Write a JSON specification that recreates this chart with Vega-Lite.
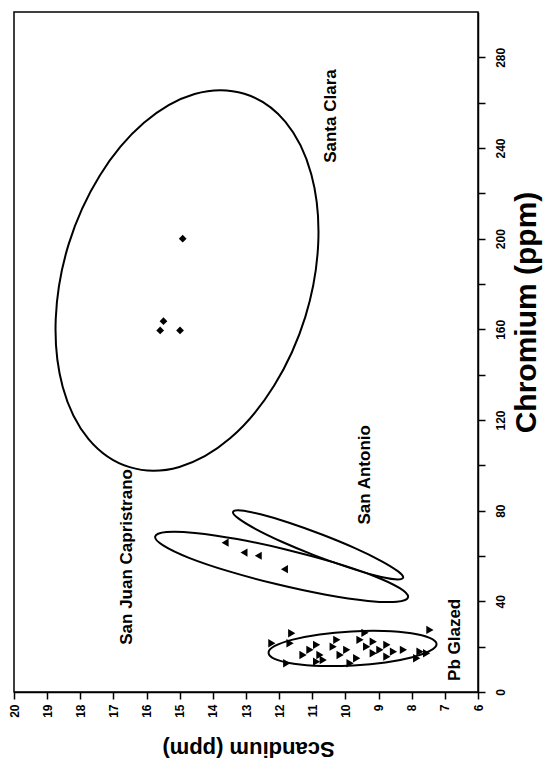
{
  "$schema": "https://vega.github.io/schema/vega-lite/v6.json",
  "width": 464,
  "height": 680,
  "autosize": {"type": "none"},
  "padding": {"left": 14, "top": 12, "right": 73, "bottom": 76},
  "background": "white",
  "config": {
    "font": "Liberation Sans",
    "view": {"stroke": "black", "strokeWidth": 1.5},
    "axis": {"grid": false, "domainColor": "black", "domainWidth": 1.5, "tickColor": "black", "tickWidth": 1.5, "tickSize": 7, "labelColor": "black", "titleColor": "black", "labelFont": "Liberation Sans", "titleFont": "Liberation Sans", "labelFontWeight": "bold", "titleFontWeight": "bold"}
  },
  "datasets": {
    "ellipses": [
      {"group": "Santa Clara", "i": 1, "sc": 16.51, "cr": 99.2},
      {"group": "Santa Clara", "i": 2, "sc": 15.01, "cr": 99.3},
      {"group": "Santa Clara", "i": 3, "sc": 13.48, "cr": 111.9},
      {"group": "Santa Clara", "i": 4, "sc": 12.15, "cr": 135.2},
      {"group": "Santa Clara", "i": 5, "sc": 11.21, "cr": 165.5},
      {"group": "Santa Clara", "i": 6, "sc": 10.82, "cr": 198.2},
      {"group": "Santa Clara", "i": 7, "sc": 11.03, "cr": 228.4},
      {"group": "Santa Clara", "i": 8, "sc": 11.81, "cr": 251.5},
      {"group": "Santa Clara", "i": 9, "sc": 13.05, "cr": 263.9},
      {"group": "Santa Clara", "i": 10, "sc": 14.55, "cr": 263.8},
      {"group": "Santa Clara", "i": 11, "sc": 16.08, "cr": 251.1},
      {"group": "Santa Clara", "i": 12, "sc": 17.41, "cr": 227.9},
      {"group": "Santa Clara", "i": 13, "sc": 18.35, "cr": 197.6},
      {"group": "Santa Clara", "i": 14, "sc": 18.74, "cr": 164.8},
      {"group": "Santa Clara", "i": 15, "sc": 18.53, "cr": 134.6},
      {"group": "Santa Clara", "i": 16, "sc": 17.75, "cr": 111.6},
      {"group": "San Juan Capistrano", "i": 1, "sc": 8.11, "cr": 41.8},
      {"group": "San Juan Capistrano", "i": 2, "sc": 8.45, "cr": 39.8},
      {"group": "San Juan Capistrano", "i": 3, "sc": 9.32, "cr": 40.2},
      {"group": "San Juan Capistrano", "i": 4, "sc": 10.59, "cr": 42.9},
      {"group": "San Juan Capistrano", "i": 5, "sc": 12.06, "cr": 47.5},
      {"group": "San Juan Capistrano", "i": 6, "sc": 13.51, "cr": 53.2},
      {"group": "San Juan Capistrano", "i": 7, "sc": 14.72, "cr": 59.2},
      {"group": "San Juan Capistrano", "i": 8, "sc": 15.50, "cr": 64.7},
      {"group": "San Juan Capistrano", "i": 9, "sc": 15.74, "cr": 68.6},
      {"group": "San Juan Capistrano", "i": 10, "sc": 15.40, "cr": 70.6},
      {"group": "San Juan Capistrano", "i": 11, "sc": 14.54, "cr": 70.2},
      {"group": "San Juan Capistrano", "i": 12, "sc": 13.27, "cr": 67.5},
      {"group": "San Juan Capistrano", "i": 13, "sc": 11.80, "cr": 62.9},
      {"group": "San Juan Capistrano", "i": 14, "sc": 10.35, "cr": 57.2},
      {"group": "San Juan Capistrano", "i": 15, "sc": 9.14, "cr": 51.2},
      {"group": "San Juan Capistrano", "i": 16, "sc": 8.36, "cr": 45.8},
      {"group": "San Antonio", "i": 1, "sc": 8.26, "cr": 50.4},
      {"group": "San Antonio", "i": 2, "sc": 8.50, "cr": 49.7},
      {"group": "San Antonio", "i": 3, "sc": 9.10, "cr": 51.4},
      {"group": "San Antonio", "i": 4, "sc": 9.96, "cr": 55.2},
      {"group": "San Antonio", "i": 5, "sc": 10.95, "cr": 60.4},
      {"group": "San Antonio", "i": 6, "sc": 11.92, "cr": 66.3},
      {"group": "San Antonio", "i": 7, "sc": 12.72, "cr": 72.0},
      {"group": "San Antonio", "i": 8, "sc": 13.24, "cr": 76.7},
      {"group": "San Antonio", "i": 9, "sc": 13.39, "cr": 79.5},
      {"group": "San Antonio", "i": 10, "sc": 13.15, "cr": 80.1},
      {"group": "San Antonio", "i": 11, "sc": 12.56, "cr": 78.4},
      {"group": "San Antonio", "i": 12, "sc": 11.70, "cr": 74.7},
      {"group": "San Antonio", "i": 13, "sc": 10.71, "cr": 69.5},
      {"group": "San Antonio", "i": 14, "sc": 9.73, "cr": 63.6},
      {"group": "San Antonio", "i": 15, "sc": 8.93, "cr": 57.9},
      {"group": "San Antonio", "i": 16, "sc": 8.41, "cr": 53.2},
      {"group": "Pb Glazed", "i": 1, "sc": 7.25, "cr": 21.2},
      {"group": "Pb Glazed", "i": 2, "sc": 7.44, "cr": 18.2},
      {"group": "Pb Glazed", "i": 3, "sc": 7.98, "cr": 15.3},
      {"group": "Pb Glazed", "i": 4, "sc": 8.79, "cr": 13.0},
      {"group": "Pb Glazed", "i": 5, "sc": 9.76, "cr": 11.7},
      {"group": "Pb Glazed", "i": 6, "sc": 10.73, "cr": 11.5},
      {"group": "Pb Glazed", "i": 7, "sc": 11.56, "cr": 12.5},
      {"group": "Pb Glazed", "i": 8, "sc": 12.12, "cr": 14.5},
      {"group": "Pb Glazed", "i": 9, "sc": 12.32, "cr": 17.3},
      {"group": "Pb Glazed", "i": 10, "sc": 12.13, "cr": 20.3},
      {"group": "Pb Glazed", "i": 11, "sc": 11.59, "cr": 23.1},
      {"group": "Pb Glazed", "i": 12, "sc": 10.78, "cr": 25.4},
      {"group": "Pb Glazed", "i": 13, "sc": 9.81, "cr": 26.7},
      {"group": "Pb Glazed", "i": 14, "sc": 8.84, "cr": 26.9},
      {"group": "Pb Glazed", "i": 15, "sc": 8.01, "cr": 25.9},
      {"group": "Pb Glazed", "i": 16, "sc": 7.46, "cr": 23.9}
    ],
    "points": [
      {"group": "Santa Clara", "sc": 14.91, "cr": 200.0},
      {"group": "Santa Clara", "sc": 15.49, "cr": 163.6},
      {"group": "Santa Clara", "sc": 15.59, "cr": 159.5},
      {"group": "Santa Clara", "sc": 14.99, "cr": 159.5},
      {"group": "San Juan Capistrano", "sc": 13.63, "cr": 65.9},
      {"group": "San Juan Capistrano", "sc": 13.06, "cr": 61.5},
      {"group": "San Juan Capistrano", "sc": 12.63, "cr": 60.1},
      {"group": "San Juan Capistrano", "sc": 11.84, "cr": 54.2},
      {"group": "Pb Glazed", "sc": 7.45, "cr": 27.4},
      {"group": "Pb Glazed", "sc": 11.62, "cr": 25.9},
      {"group": "Pb Glazed", "sc": 12.22, "cr": 21.5},
      {"group": "Pb Glazed", "sc": 11.77, "cr": 12.7},
      {"group": "Pb Glazed", "sc": 11.67, "cr": 21.5},
      {"group": "Pb Glazed", "sc": 11.07, "cr": 18.6},
      {"group": "Pb Glazed", "sc": 10.77, "cr": 16.3},
      {"group": "Pb Glazed", "sc": 10.67, "cr": 14.1},
      {"group": "Pb Glazed", "sc": 10.37, "cr": 20.0},
      {"group": "Pb Glazed", "sc": 10.16, "cr": 16.3},
      {"group": "Pb Glazed", "sc": 9.96, "cr": 18.6},
      {"group": "Pb Glazed", "sc": 10.26, "cr": 23.0},
      {"group": "Pb Glazed", "sc": 10.87, "cr": 20.8},
      {"group": "Pb Glazed", "sc": 9.56, "cr": 23.0},
      {"group": "Pb Glazed", "sc": 9.36, "cr": 20.0},
      {"group": "Pb Glazed", "sc": 9.16, "cr": 22.2},
      {"group": "Pb Glazed", "sc": 8.96, "cr": 18.6},
      {"group": "Pb Glazed", "sc": 8.75, "cr": 20.8},
      {"group": "Pb Glazed", "sc": 8.55, "cr": 17.8},
      {"group": "Pb Glazed", "sc": 8.25, "cr": 18.6},
      {"group": "Pb Glazed", "sc": 9.66, "cr": 14.9},
      {"group": "Pb Glazed", "sc": 9.16, "cr": 17.1},
      {"group": "Pb Glazed", "sc": 8.75, "cr": 15.6},
      {"group": "Pb Glazed", "sc": 7.75, "cr": 17.8},
      {"group": "Pb Glazed", "sc": 7.55, "cr": 17.1},
      {"group": "Pb Glazed", "sc": 7.85, "cr": 14.9},
      {"group": "Pb Glazed", "sc": 9.86, "cr": 12.7},
      {"group": "Pb Glazed", "sc": 10.87, "cr": 13.4},
      {"group": "Pb Glazed", "sc": 11.28, "cr": 16.3},
      {"group": "Pb Glazed", "sc": 9.41, "cr": 26.1}
    ],
    "labels": [
      {"label": "Santa Clara", "sc": 10.45, "cr": 254.1},
      {"label": "San Antonio", "sc": 9.41, "cr": 95.8},
      {"label": "San Juan Capristrano", "sc": 16.59, "cr": 59.6},
      {"label": "Pb Glazed", "sc": 6.69, "cr": 23.0}
    ]
  },
  "encoding": {
    "x": {"field": "sc", "type": "quantitative",
      "scale": {"domain": [6, 20], "reverse": true, "nice": false, "zero": false},
      "axis": {"orient": "bottom", "title": "Scandium (ppm)", "values": [6,7,8,9,10,11,12,13,14,15,16,17,18,19,20],
        "labelAngle": -90, "labelAlign": "right", "labelBaseline": "middle", "labelFontSize": 12, "labelPadding": 5,
        "titleAngle": 180, "titleFontSize": 22, "titleBaseline": "middle", "titleAlign": "center", "titleX": 234, "titleY": 56}},
    "y": {"field": "cr", "type": "quantitative",
      "scale": {"domain": [0, 300], "nice": false},
      "axis": {"orient": "right", "title": "Chromium (ppm)", "values": [0,20,40,60,80,100,120,140,160,180,200,220,240,260,280],
        "labelExpr": "datum.value % 40 === 0 ? datum.label : ''",
        "labelAngle": -90, "labelAlign": "center", "labelBaseline": "top", "labelFontSize": 12, "labelPadding": 10,
        "titleAngle": -90, "titleFontSize": 30, "titleBaseline": "middle", "titleAlign": "center", "titleX": 48, "titleY": 300}}
  },
  "layer": [
    {
      "data": {"name": "ellipses"},
      "mark": {"type": "line", "interpolate": "cardinal-closed", "color": "black", "strokeWidth": 2},
      "encoding": {"detail": {"field": "group"}, "order": {"field": "i", "type": "quantitative"}}
    },
    {
      "data": {"name": "points"},
      "mark": {"type": "point", "filled": true, "color": "black", "opacity": 1},
      "encoding": {
        "shape": {"field": "group", "type": "nominal", "legend": null,
          "scale": {"domain": ["Santa Clara", "San Juan Capistrano", "Pb Glazed"], "range": ["diamond", "triangle-left", "triangle-right"]}},
        "size": {"field": "group", "type": "nominal", "legend": null,
          "scale": {"domain": ["Santa Clara", "San Juan Capistrano", "Pb Glazed"], "range": [60, 70, 70]}}
      }
    },
    {
      "data": {"name": "labels"},
      "mark": {"type": "text", "angle": 270, "fontSize": 17, "fontWeight": "bold", "font": "Liberation Sans", "align": "center", "baseline": "middle", "color": "black"},
      "encoding": {"text": {"field": "label"}}
    }
  ]
}
